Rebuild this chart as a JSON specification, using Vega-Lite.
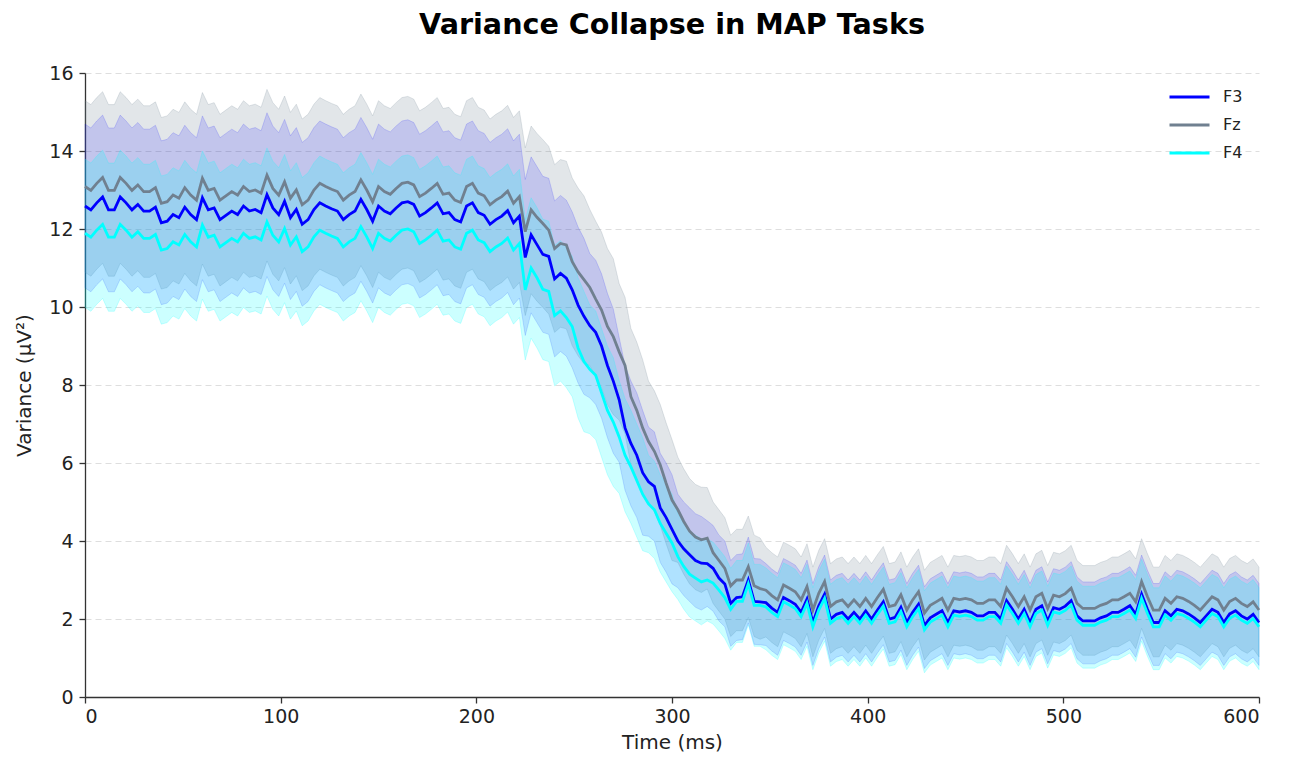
{
"$schema":"https://vega.github.io/schema/vega-lite/v6.json",
"width":1174,"height":624,
"autosize":{"type":"none"},
"padding":{"left":85,"top":73,"right":32,"bottom":60},
"background":"white",
"title":{"text":"Variance Collapse in MAP Tasks","font":"DejaVu Sans","fontSize":28.6,"fontWeight":"bold","color":"#000000","anchor":"middle","offset":24},
"config":{"view":{"stroke":null},"axis":{"labelFont":"DejaVu Sans","titleFont":"DejaVu Sans","labelFontSize":19,"titleFontSize":20,"titleFontWeight":"normal","labelColor":"#222222","titleColor":"#222222","domainColor":"#333333","tickColor":"#333333","domainWidth":1.3,"tickWidth":1.3,"tickSize":6}},
"data":{"values":[
{"t":0,"z":13.09,"zl":10.89,"zh":15.29,"a":12.59,"al":10.49,"ah":14.69,"c":11.89,"cl":9.99,"ch":13.79},
{"t":3,"z":12.99,"zl":10.79,"zh":15.19,"a":12.49,"al":10.39,"ah":14.59,"c":11.79,"cl":9.89,"ch":13.69},
{"t":6,"z":13.17,"zl":10.97,"zh":15.37,"a":12.67,"al":10.57,"ah":14.77,"c":11.97,"cl":10.07,"ch":13.87},
{"t":9,"z":13.32,"zl":11.12,"zh":15.52,"a":12.82,"al":10.72,"ah":14.92,"c":12.12,"cl":10.22,"ch":14.02},
{"t":12,"z":12.99,"zl":10.79,"zh":15.19,"a":12.49,"al":10.39,"ah":14.59,"c":11.79,"cl":9.89,"ch":13.69},
{"t":15,"z":12.99,"zl":10.79,"zh":15.19,"a":12.49,"al":10.39,"ah":14.59,"c":11.79,"cl":9.89,"ch":13.69},
{"t":18,"z":13.32,"zl":11.12,"zh":15.52,"a":12.82,"al":10.72,"ah":14.92,"c":12.12,"cl":10.22,"ch":14.02},
{"t":21,"z":13.17,"zl":10.97,"zh":15.37,"a":12.67,"al":10.57,"ah":14.77,"c":11.97,"cl":10.07,"ch":13.87},
{"t":24,"z":12.99,"zl":10.79,"zh":15.19,"a":12.49,"al":10.39,"ah":14.59,"c":11.79,"cl":9.89,"ch":13.69},
{"t":27,"z":13.13,"zl":10.93,"zh":15.33,"a":12.63,"al":10.53,"ah":14.73,"c":11.93,"cl":10.03,"ch":13.83},
{"t":30,"z":12.96,"zl":10.76,"zh":15.16,"a":12.46,"al":10.36,"ah":14.56,"c":11.76,"cl":9.86,"ch":13.66},
{"t":33,"z":12.96,"zl":10.76,"zh":15.16,"a":12.46,"al":10.36,"ah":14.56,"c":11.76,"cl":9.86,"ch":13.66},
{"t":36,"z":13.06,"zl":10.86,"zh":15.26,"a":12.56,"al":10.46,"ah":14.66,"c":11.86,"cl":9.96,"ch":13.76},
{"t":39,"z":12.66,"zl":10.46,"zh":14.86,"a":12.16,"al":10.06,"ah":14.26,"c":11.46,"cl":9.56,"ch":13.36},
{"t":42,"z":12.70,"zl":10.50,"zh":14.90,"a":12.20,"al":10.10,"ah":14.30,"c":11.50,"cl":9.60,"ch":13.40},
{"t":45,"z":12.87,"zl":10.67,"zh":15.07,"a":12.37,"al":10.27,"ah":14.47,"c":11.67,"cl":9.77,"ch":13.57},
{"t":48,"z":12.79,"zl":10.59,"zh":14.99,"a":12.29,"al":10.19,"ah":14.39,"c":11.59,"cl":9.69,"ch":13.49},
{"t":51,"z":13.06,"zl":10.86,"zh":15.26,"a":12.56,"al":10.46,"ah":14.66,"c":11.86,"cl":9.96,"ch":13.76},
{"t":54,"z":12.87,"zl":10.67,"zh":15.07,"a":12.37,"al":10.27,"ah":14.47,"c":11.67,"cl":9.77,"ch":13.57},
{"t":57,"z":12.74,"zl":10.54,"zh":14.94,"a":12.24,"al":10.14,"ah":14.34,"c":11.54,"cl":9.64,"ch":13.44},
{"t":60,"z":13.30,"zl":11.10,"zh":15.50,"a":12.80,"al":10.70,"ah":14.90,"c":12.10,"cl":10.20,"ch":14.00},
{"t":63,"z":12.99,"zl":10.79,"zh":15.19,"a":12.49,"al":10.39,"ah":14.59,"c":11.79,"cl":9.89,"ch":13.69},
{"t":66,"z":13.04,"zl":10.84,"zh":15.24,"a":12.54,"al":10.44,"ah":14.64,"c":11.84,"cl":9.94,"ch":13.74},
{"t":69,"z":12.74,"zl":10.54,"zh":14.94,"a":12.24,"al":10.14,"ah":14.34,"c":11.54,"cl":9.64,"ch":13.44},
{"t":72,"z":12.85,"zl":10.65,"zh":15.05,"a":12.35,"al":10.25,"ah":14.45,"c":11.65,"cl":9.75,"ch":13.55},
{"t":75,"z":12.96,"zl":10.76,"zh":15.16,"a":12.46,"al":10.36,"ah":14.56,"c":11.76,"cl":9.86,"ch":13.66},
{"t":78,"z":12.87,"zl":10.67,"zh":15.07,"a":12.37,"al":10.27,"ah":14.47,"c":11.67,"cl":9.77,"ch":13.57},
{"t":81,"z":13.09,"zl":10.89,"zh":15.29,"a":12.59,"al":10.49,"ah":14.69,"c":11.89,"cl":9.99,"ch":13.79},
{"t":84,"z":12.96,"zl":10.76,"zh":15.16,"a":12.46,"al":10.36,"ah":14.56,"c":11.76,"cl":9.86,"ch":13.66},
{"t":87,"z":13.00,"zl":10.80,"zh":15.20,"a":12.50,"al":10.40,"ah":14.60,"c":11.80,"cl":9.90,"ch":13.70},
{"t":90,"z":12.92,"zl":10.72,"zh":15.12,"a":12.42,"al":10.32,"ah":14.52,"c":11.72,"cl":9.82,"ch":13.62},
{"t":93,"z":13.38,"zl":11.18,"zh":15.58,"a":12.88,"al":10.78,"ah":14.98,"c":12.18,"cl":10.28,"ch":14.08},
{"t":96,"z":13.04,"zl":10.84,"zh":15.24,"a":12.54,"al":10.44,"ah":14.64,"c":11.84,"cl":9.94,"ch":13.74},
{"t":99,"z":12.87,"zl":10.67,"zh":15.07,"a":12.37,"al":10.27,"ah":14.47,"c":11.67,"cl":9.77,"ch":13.57},
{"t":102,"z":13.21,"zl":11.01,"zh":15.41,"a":12.71,"al":10.61,"ah":14.81,"c":12.01,"cl":10.11,"ch":13.91},
{"t":105,"z":12.79,"zl":10.59,"zh":14.99,"a":12.29,"al":10.19,"ah":14.39,"c":11.59,"cl":9.69,"ch":13.49},
{"t":108,"z":13.00,"zl":10.80,"zh":15.20,"a":12.50,"al":10.40,"ah":14.60,"c":11.80,"cl":9.90,"ch":13.70},
{"t":111,"z":12.62,"zl":10.42,"zh":14.82,"a":12.12,"al":10.02,"ah":14.22,"c":11.42,"cl":9.52,"ch":13.32},
{"t":114,"z":12.74,"zl":10.54,"zh":14.94,"a":12.24,"al":10.14,"ah":14.34,"c":11.54,"cl":9.64,"ch":13.44},
{"t":117,"z":13.00,"zl":10.80,"zh":15.20,"a":12.50,"al":10.40,"ah":14.60,"c":11.80,"cl":9.90,"ch":13.70},
{"t":120,"z":13.17,"zl":10.97,"zh":15.37,"a":12.67,"al":10.57,"ah":14.77,"c":11.97,"cl":10.07,"ch":13.87},
{"t":123,"z":13.09,"zl":10.89,"zh":15.29,"a":12.59,"al":10.49,"ah":14.69,"c":11.89,"cl":9.99,"ch":13.79},
{"t":126,"z":13.02,"zl":10.82,"zh":15.22,"a":12.52,"al":10.42,"ah":14.62,"c":11.82,"cl":9.92,"ch":13.72},
{"t":129,"z":12.96,"zl":10.76,"zh":15.16,"a":12.46,"al":10.36,"ah":14.56,"c":11.76,"cl":9.86,"ch":13.66},
{"t":132,"z":12.74,"zl":10.54,"zh":14.94,"a":12.24,"al":10.14,"ah":14.34,"c":11.54,"cl":9.64,"ch":13.44},
{"t":135,"z":12.87,"zl":10.67,"zh":15.07,"a":12.37,"al":10.27,"ah":14.47,"c":11.67,"cl":9.77,"ch":13.57},
{"t":138,"z":12.96,"zl":10.76,"zh":15.16,"a":12.46,"al":10.36,"ah":14.56,"c":11.76,"cl":9.86,"ch":13.66},
{"t":141,"z":13.26,"zl":11.06,"zh":15.46,"a":12.76,"al":10.66,"ah":14.86,"c":12.06,"cl":10.16,"ch":13.96},
{"t":144,"z":13.00,"zl":10.80,"zh":15.20,"a":12.50,"al":10.40,"ah":14.60,"c":11.80,"cl":9.90,"ch":13.70},
{"t":147,"z":12.70,"zl":10.50,"zh":14.90,"a":12.20,"al":10.10,"ah":14.30,"c":11.50,"cl":9.60,"ch":13.40},
{"t":150,"z":13.09,"zl":10.89,"zh":15.29,"a":12.59,"al":10.49,"ah":14.69,"c":11.89,"cl":9.99,"ch":13.79},
{"t":153,"z":12.96,"zl":10.76,"zh":15.16,"a":12.46,"al":10.36,"ah":14.56,"c":11.76,"cl":9.86,"ch":13.66},
{"t":156,"z":12.89,"zl":10.69,"zh":15.09,"a":12.39,"al":10.29,"ah":14.49,"c":11.69,"cl":9.79,"ch":13.59},
{"t":159,"z":13.04,"zl":10.84,"zh":15.24,"a":12.54,"al":10.44,"ah":14.64,"c":11.84,"cl":9.94,"ch":13.74},
{"t":162,"z":13.17,"zl":10.97,"zh":15.37,"a":12.67,"al":10.57,"ah":14.77,"c":11.97,"cl":10.07,"ch":13.87},
{"t":165,"z":13.20,"zl":11.00,"zh":15.40,"a":12.70,"al":10.60,"ah":14.80,"c":12.00,"cl":10.10,"ch":13.90},
{"t":168,"z":13.13,"zl":10.93,"zh":15.33,"a":12.63,"al":10.53,"ah":14.73,"c":11.93,"cl":10.03,"ch":13.83},
{"t":171,"z":12.83,"zl":10.63,"zh":15.03,"a":12.33,"al":10.23,"ah":14.43,"c":11.63,"cl":9.73,"ch":13.53},
{"t":174,"z":12.92,"zl":10.72,"zh":15.12,"a":12.42,"al":10.32,"ah":14.52,"c":11.72,"cl":9.82,"ch":13.62},
{"t":177,"z":13.04,"zl":10.84,"zh":15.24,"a":12.54,"al":10.44,"ah":14.64,"c":11.84,"cl":9.94,"ch":13.74},
{"t":180,"z":13.17,"zl":10.97,"zh":15.37,"a":12.67,"al":10.57,"ah":14.77,"c":11.97,"cl":10.07,"ch":13.87},
{"t":183,"z":12.89,"zl":10.69,"zh":15.09,"a":12.39,"al":10.29,"ah":14.49,"c":11.69,"cl":9.79,"ch":13.59},
{"t":186,"z":12.92,"zl":10.72,"zh":15.12,"a":12.42,"al":10.32,"ah":14.52,"c":11.72,"cl":9.82,"ch":13.62},
{"t":189,"z":12.74,"zl":10.54,"zh":14.94,"a":12.24,"al":10.14,"ah":14.34,"c":11.54,"cl":9.64,"ch":13.44},
{"t":192,"z":12.68,"zl":10.48,"zh":14.88,"a":12.18,"al":10.08,"ah":14.28,"c":11.48,"cl":9.58,"ch":13.38},
{"t":195,"z":13.09,"zl":10.89,"zh":15.29,"a":12.59,"al":10.49,"ah":14.69,"c":11.89,"cl":9.99,"ch":13.79},
{"t":198,"z":13.17,"zl":10.97,"zh":15.37,"a":12.67,"al":10.57,"ah":14.77,"c":11.97,"cl":10.07,"ch":13.87},
{"t":201,"z":12.92,"zl":10.72,"zh":15.12,"a":12.42,"al":10.32,"ah":14.52,"c":11.72,"cl":9.82,"ch":13.62},
{"t":204,"z":12.85,"zl":10.65,"zh":15.05,"a":12.35,"al":10.25,"ah":14.45,"c":11.65,"cl":9.75,"ch":13.55},
{"t":207,"z":12.62,"zl":10.42,"zh":14.82,"a":12.12,"al":10.02,"ah":14.22,"c":11.42,"cl":9.52,"ch":13.32},
{"t":210,"z":12.74,"zl":10.54,"zh":14.94,"a":12.24,"al":10.14,"ah":14.34,"c":11.54,"cl":9.64,"ch":13.44},
{"t":213,"z":12.83,"zl":10.63,"zh":15.03,"a":12.33,"al":10.23,"ah":14.43,"c":11.63,"cl":9.73,"ch":13.53},
{"t":216,"z":12.97,"zl":10.77,"zh":15.17,"a":12.47,"al":10.37,"ah":14.57,"c":11.77,"cl":9.87,"ch":13.67},
{"t":219,"z":12.66,"zl":10.46,"zh":14.86,"a":12.16,"al":10.06,"ah":14.26,"c":11.46,"cl":9.56,"ch":13.36},
{"t":222,"z":12.83,"zl":10.63,"zh":15.03,"a":12.33,"al":10.23,"ah":14.43,"c":11.63,"cl":9.73,"ch":13.53},
{"t":225,"z":11.93,"zl":9.78,"zh":14.08,"a":11.27,"al":9.27,"ah":13.27,"c":10.44,"cl":8.64,"ch":12.24},
{"t":228,"z":12.49,"zl":10.34,"zh":14.64,"a":11.85,"al":9.85,"ah":13.85,"c":11.00,"cl":9.20,"ch":12.80},
{"t":231,"z":12.30,"zl":10.15,"zh":14.45,"a":11.60,"al":9.60,"ah":13.60,"c":10.75,"cl":8.95,"ch":12.55},
{"t":234,"z":12.14,"zl":9.99,"zh":14.29,"a":11.35,"al":9.35,"ah":13.35,"c":10.45,"cl":8.65,"ch":12.25},
{"t":237,"z":11.97,"zl":9.82,"zh":14.12,"a":11.30,"al":9.30,"ah":13.30,"c":10.40,"cl":8.60,"ch":12.20},
{"t":240,"z":11.50,"zl":9.35,"zh":13.65,"a":10.72,"al":8.72,"ah":12.72,"c":9.78,"cl":7.98,"ch":11.58},
{"t":243,"z":11.63,"zl":9.48,"zh":13.78,"a":10.86,"al":8.86,"ah":12.86,"c":9.90,"cl":8.10,"ch":11.70},
{"t":246,"z":11.59,"zl":9.44,"zh":13.74,"a":10.74,"al":8.74,"ah":12.74,"c":9.73,"cl":7.93,"ch":11.53},
{"t":249,"z":11.16,"zl":9.01,"zh":13.31,"a":10.44,"al":8.44,"ah":12.44,"c":9.50,"cl":7.70,"ch":11.30},
{"t":252,"z":10.90,"zl":8.75,"zh":13.05,"a":10.05,"al":8.05,"ah":12.05,"c":8.95,"cl":7.15,"ch":10.75},
{"t":255,"z":10.70,"zl":8.55,"zh":12.85,"a":9.76,"al":7.76,"ah":11.76,"c":8.60,"cl":6.80,"ch":10.40},
{"t":258,"z":10.50,"zl":8.50,"zh":12.50,"a":9.52,"al":7.67,"ah":11.37,"c":8.40,"cl":6.75,"ch":10.05},
{"t":261,"z":10.20,"zl":8.20,"zh":12.20,"a":9.35,"al":7.50,"ah":11.20,"c":8.25,"cl":6.60,"ch":9.90},
{"t":264,"z":9.92,"zl":7.92,"zh":11.92,"a":9.00,"al":7.15,"ah":10.85,"c":7.80,"cl":6.15,"ch":9.45},
{"t":267,"z":9.50,"zl":7.50,"zh":11.50,"a":8.50,"al":6.65,"ah":10.35,"c":7.35,"cl":5.70,"ch":9.00},
{"t":270,"z":9.24,"zl":7.24,"zh":11.24,"a":8.10,"al":6.25,"ah":9.95,"c":7.05,"cl":5.40,"ch":8.70},
{"t":273,"z":8.85,"zl":7.10,"zh":10.60,"a":7.62,"al":6.02,"ah":9.22,"c":6.67,"cl":5.22,"ch":8.12},
{"t":276,"z":8.50,"zl":6.75,"zh":10.25,"a":6.90,"al":5.30,"ah":8.50,"c":6.20,"cl":4.75,"ch":7.65},
{"t":279,"z":7.70,"zl":5.95,"zh":9.45,"a":6.50,"al":4.90,"ah":8.10,"c":5.90,"cl":4.45,"ch":7.35},
{"t":282,"z":7.35,"zl":5.60,"zh":9.10,"a":6.20,"al":4.60,"ah":7.80,"c":5.55,"cl":4.10,"ch":7.00},
{"t":285,"z":6.90,"zl":5.15,"zh":8.65,"a":5.75,"al":4.15,"ah":7.35,"c":5.20,"cl":3.75,"ch":6.65},
{"t":288,"z":6.55,"zl":5.00,"zh":8.10,"a":5.52,"al":4.12,"ah":6.92,"c":4.95,"cl":3.70,"ch":6.20},
{"t":291,"z":6.30,"zl":4.75,"zh":7.85,"a":5.40,"al":4.00,"ah":6.80,"c":4.80,"cl":3.55,"ch":6.05},
{"t":294,"z":5.95,"zl":4.40,"zh":7.50,"a":4.85,"al":3.45,"ah":6.25,"c":4.45,"cl":3.20,"ch":5.70},
{"t":297,"z":5.48,"zl":3.93,"zh":7.03,"a":4.60,"al":3.20,"ah":6.00,"c":4.20,"cl":2.95,"ch":5.45},
{"t":300,"z":5.05,"zl":3.50,"zh":6.60,"a":4.30,"al":2.90,"ah":5.70,"c":3.95,"cl":2.70,"ch":5.20},
{"t":303,"z":4.80,"zl":3.45,"zh":6.15,"a":4.00,"al":2.80,"ah":5.20,"c":3.60,"cl":2.50,"ch":4.70},
{"t":306,"z":4.50,"zl":3.15,"zh":5.85,"a":3.80,"al":2.60,"ah":5.00,"c":3.35,"cl":2.25,"ch":4.45},
{"t":309,"z":4.25,"zl":2.90,"zh":5.60,"a":3.65,"al":2.45,"ah":4.85,"c":3.15,"cl":2.05,"ch":4.25},
{"t":312,"z":4.10,"zl":2.75,"zh":5.45,"a":3.50,"al":2.30,"ah":4.70,"c":3.05,"cl":1.95,"ch":4.15},
{"t":315,"z":4.03,"zl":2.68,"zh":5.38,"a":3.43,"al":2.23,"ah":4.63,"c":2.95,"cl":1.85,"ch":4.05},
{"t":318,"z":4.07,"zl":2.77,"zh":5.37,"a":3.42,"al":2.32,"ah":4.52,"c":3.00,"cl":1.95,"ch":4.05},
{"t":321,"z":3.70,"zl":2.40,"zh":5.00,"a":3.30,"al":2.20,"ah":4.40,"c":2.92,"cl":1.87,"ch":3.97},
{"t":324,"z":3.50,"zl":2.20,"zh":4.80,"a":3.05,"al":1.95,"ah":4.15,"c":2.74,"cl":1.69,"ch":3.79},
{"t":327,"z":3.30,"zl":2.00,"zh":4.60,"a":2.90,"al":1.80,"ah":4.00,"c":2.55,"cl":1.50,"ch":3.60},
{"t":330,"z":2.85,"zl":1.55,"zh":4.15,"a":2.40,"al":1.30,"ah":3.50,"c":2.25,"cl":1.20,"ch":3.30},
{"t":333,"z":3.00,"zl":1.70,"zh":4.30,"a":2.55,"al":1.45,"ah":3.65,"c":2.45,"cl":1.40,"ch":3.50},
{"t":336,"z":3.00,"zl":1.70,"zh":4.30,"a":2.57,"al":1.47,"ah":3.67,"c":2.45,"cl":1.40,"ch":3.50},
{"t":339,"z":3.34,"zl":2.04,"zh":4.64,"a":3.00,"al":1.90,"ah":4.10,"c":2.90,"cl":1.85,"ch":3.95},
{"t":342,"z":2.85,"zl":1.55,"zh":4.15,"a":2.45,"al":1.35,"ah":3.55,"c":2.35,"cl":1.30,"ch":3.40},
{"t":345,"z":2.78,"zl":1.48,"zh":4.08,"a":2.44,"al":1.34,"ah":3.54,"c":2.35,"cl":1.30,"ch":3.40},
{"t":348,"z":2.74,"zl":1.54,"zh":3.84,"a":2.42,"al":1.32,"ah":3.42,"c":2.31,"cl":1.21,"ch":3.31},
{"t":351,"z":2.60,"zl":1.40,"zh":3.70,"a":2.28,"al":1.18,"ah":3.28,"c":2.17,"cl":1.07,"ch":3.17},
{"t":354,"z":2.49,"zl":1.29,"zh":3.59,"a":2.17,"al":1.07,"ah":3.17,"c":2.06,"cl":0.96,"ch":3.06},
{"t":357,"z":2.87,"zl":1.67,"zh":3.97,"a":2.55,"al":1.45,"ah":3.55,"c":2.44,"cl":1.34,"ch":3.44},
{"t":360,"z":2.79,"zl":1.59,"zh":3.89,"a":2.47,"al":1.37,"ah":3.47,"c":2.36,"cl":1.26,"ch":3.36},
{"t":363,"z":2.70,"zl":1.50,"zh":3.80,"a":2.38,"al":1.28,"ah":3.38,"c":2.27,"cl":1.17,"ch":3.27},
{"t":366,"z":2.49,"zl":1.29,"zh":3.59,"a":2.17,"al":1.07,"ah":3.17,"c":2.06,"cl":0.96,"ch":3.06},
{"t":369,"z":2.83,"zl":1.63,"zh":3.93,"a":2.51,"al":1.41,"ah":3.51,"c":2.40,"cl":1.30,"ch":3.40},
{"t":372,"z":2.23,"zl":1.03,"zh":3.33,"a":1.91,"al":0.81,"ah":2.91,"c":1.80,"cl":0.70,"ch":2.80},
{"t":375,"z":2.66,"zl":1.46,"zh":3.76,"a":2.34,"al":1.24,"ah":3.34,"c":2.23,"cl":1.13,"ch":3.23},
{"t":378,"z":2.96,"zl":1.76,"zh":4.06,"a":2.64,"al":1.54,"ah":3.64,"c":2.53,"cl":1.43,"ch":3.53},
{"t":381,"z":2.32,"zl":1.12,"zh":3.42,"a":2.00,"al":0.90,"ah":3.00,"c":1.89,"cl":0.79,"ch":2.89},
{"t":384,"z":2.44,"zl":1.24,"zh":3.54,"a":2.12,"al":1.02,"ah":3.12,"c":2.01,"cl":0.91,"ch":3.01},
{"t":387,"z":2.49,"zl":1.29,"zh":3.59,"a":2.17,"al":1.07,"ah":3.17,"c":2.06,"cl":0.96,"ch":3.06},
{"t":390,"z":2.32,"zl":1.12,"zh":3.42,"a":2.00,"al":0.90,"ah":3.00,"c":1.89,"cl":0.79,"ch":2.89},
{"t":393,"z":2.49,"zl":1.29,"zh":3.59,"a":2.17,"al":1.07,"ah":3.17,"c":2.06,"cl":0.96,"ch":3.06},
{"t":396,"z":2.32,"zl":1.12,"zh":3.42,"a":2.00,"al":0.90,"ah":3.00,"c":1.89,"cl":0.79,"ch":2.89},
{"t":399,"z":2.53,"zl":1.33,"zh":3.63,"a":2.21,"al":1.11,"ah":3.21,"c":2.10,"cl":1.00,"ch":3.10},
{"t":402,"z":2.32,"zl":1.12,"zh":3.42,"a":2.00,"al":0.90,"ah":3.00,"c":1.89,"cl":0.79,"ch":2.89},
{"t":405,"z":2.55,"zl":1.35,"zh":3.65,"a":2.23,"al":1.13,"ah":3.23,"c":2.12,"cl":1.02,"ch":3.12},
{"t":408,"z":2.76,"zl":1.56,"zh":3.86,"a":2.44,"al":1.34,"ah":3.44,"c":2.33,"cl":1.23,"ch":3.33},
{"t":411,"z":2.32,"zl":1.12,"zh":3.42,"a":2.00,"al":0.90,"ah":3.00,"c":1.89,"cl":0.79,"ch":2.89},
{"t":414,"z":2.36,"zl":1.16,"zh":3.46,"a":2.04,"al":0.94,"ah":3.04,"c":1.93,"cl":0.83,"ch":2.93},
{"t":417,"z":2.62,"zl":1.42,"zh":3.72,"a":2.30,"al":1.20,"ah":3.30,"c":2.19,"cl":1.09,"ch":3.19},
{"t":420,"z":2.23,"zl":1.03,"zh":3.33,"a":1.91,"al":0.81,"ah":2.91,"c":1.80,"cl":0.70,"ch":2.80},
{"t":423,"z":2.49,"zl":1.29,"zh":3.59,"a":2.17,"al":1.07,"ah":3.17,"c":2.06,"cl":0.96,"ch":3.06},
{"t":426,"z":2.70,"zl":1.50,"zh":3.80,"a":2.38,"al":1.28,"ah":3.38,"c":2.27,"cl":1.17,"ch":3.27},
{"t":429,"z":2.15,"zl":0.95,"zh":3.25,"a":1.83,"al":0.73,"ah":2.83,"c":1.72,"cl":0.62,"ch":2.72},
{"t":432,"z":2.35,"zl":1.15,"zh":3.45,"a":2.03,"al":0.93,"ah":3.03,"c":1.92,"cl":0.82,"ch":2.92},
{"t":435,"z":2.44,"zl":1.24,"zh":3.54,"a":2.12,"al":1.02,"ah":3.12,"c":2.01,"cl":0.91,"ch":3.01},
{"t":438,"z":2.53,"zl":1.33,"zh":3.63,"a":2.21,"al":1.11,"ah":3.21,"c":2.10,"cl":1.00,"ch":3.10},
{"t":441,"z":2.23,"zl":1.03,"zh":3.33,"a":1.91,"al":0.81,"ah":2.91,"c":1.80,"cl":0.70,"ch":2.80},
{"t":444,"z":2.53,"zl":1.33,"zh":3.63,"a":2.21,"al":1.11,"ah":3.21,"c":2.10,"cl":1.00,"ch":3.10},
{"t":447,"z":2.50,"zl":1.30,"zh":3.60,"a":2.18,"al":1.08,"ah":3.18,"c":2.07,"cl":0.97,"ch":3.07},
{"t":450,"z":2.53,"zl":1.33,"zh":3.63,"a":2.21,"al":1.11,"ah":3.21,"c":2.10,"cl":1.00,"ch":3.10},
{"t":453,"z":2.49,"zl":1.29,"zh":3.59,"a":2.17,"al":1.07,"ah":3.17,"c":2.06,"cl":0.96,"ch":3.06},
{"t":456,"z":2.40,"zl":1.20,"zh":3.50,"a":2.08,"al":0.98,"ah":3.08,"c":1.97,"cl":0.87,"ch":2.97},
{"t":459,"z":2.40,"zl":1.20,"zh":3.50,"a":2.08,"al":0.98,"ah":3.08,"c":1.97,"cl":0.87,"ch":2.97},
{"t":462,"z":2.49,"zl":1.29,"zh":3.59,"a":2.17,"al":1.07,"ah":3.17,"c":2.06,"cl":0.96,"ch":3.06},
{"t":465,"z":2.49,"zl":1.29,"zh":3.59,"a":2.17,"al":1.07,"ah":3.17,"c":2.06,"cl":0.96,"ch":3.06},
{"t":468,"z":2.32,"zl":1.12,"zh":3.42,"a":2.00,"al":0.90,"ah":3.00,"c":1.89,"cl":0.79,"ch":2.89},
{"t":471,"z":2.79,"zl":1.59,"zh":3.89,"a":2.47,"al":1.37,"ah":3.47,"c":2.36,"cl":1.26,"ch":3.36},
{"t":474,"z":2.57,"zl":1.37,"zh":3.67,"a":2.25,"al":1.15,"ah":3.25,"c":2.14,"cl":1.04,"ch":3.14},
{"t":477,"z":2.32,"zl":1.12,"zh":3.42,"a":2.00,"al":0.90,"ah":3.00,"c":1.89,"cl":0.79,"ch":2.89},
{"t":480,"z":2.57,"zl":1.37,"zh":3.67,"a":2.25,"al":1.15,"ah":3.25,"c":2.14,"cl":1.04,"ch":3.14},
{"t":483,"z":2.23,"zl":1.03,"zh":3.33,"a":1.91,"al":0.81,"ah":2.91,"c":1.80,"cl":0.70,"ch":2.80},
{"t":486,"z":2.57,"zl":1.37,"zh":3.67,"a":2.25,"al":1.15,"ah":3.25,"c":2.14,"cl":1.04,"ch":3.14},
{"t":489,"z":2.66,"zl":1.46,"zh":3.76,"a":2.34,"al":1.24,"ah":3.34,"c":2.23,"cl":1.13,"ch":3.23},
{"t":492,"z":2.27,"zl":1.07,"zh":3.37,"a":1.95,"al":0.85,"ah":2.95,"c":1.84,"cl":0.74,"ch":2.84},
{"t":495,"z":2.61,"zl":1.41,"zh":3.71,"a":2.29,"al":1.19,"ah":3.29,"c":2.18,"cl":1.08,"ch":3.18},
{"t":498,"z":2.57,"zl":1.37,"zh":3.67,"a":2.25,"al":1.15,"ah":3.25,"c":2.14,"cl":1.04,"ch":3.14},
{"t":501,"z":2.65,"zl":1.45,"zh":3.75,"a":2.33,"al":1.23,"ah":3.33,"c":2.22,"cl":1.12,"ch":3.22},
{"t":504,"z":2.79,"zl":1.59,"zh":3.89,"a":2.47,"al":1.37,"ah":3.47,"c":2.36,"cl":1.26,"ch":3.36},
{"t":507,"z":2.40,"zl":1.20,"zh":3.50,"a":2.08,"al":0.98,"ah":3.08,"c":1.97,"cl":0.87,"ch":2.97},
{"t":510,"z":2.27,"zl":1.07,"zh":3.37,"a":1.95,"al":0.85,"ah":2.95,"c":1.84,"cl":0.74,"ch":2.84},
{"t":513,"z":2.27,"zl":1.07,"zh":3.37,"a":1.95,"al":0.85,"ah":2.95,"c":1.84,"cl":0.74,"ch":2.84},
{"t":516,"z":2.27,"zl":1.07,"zh":3.37,"a":1.95,"al":0.85,"ah":2.95,"c":1.84,"cl":0.74,"ch":2.84},
{"t":519,"z":2.35,"zl":1.15,"zh":3.45,"a":2.03,"al":0.93,"ah":3.03,"c":1.92,"cl":0.82,"ch":2.92},
{"t":522,"z":2.40,"zl":1.20,"zh":3.50,"a":2.08,"al":0.98,"ah":3.08,"c":1.97,"cl":0.87,"ch":2.97},
{"t":525,"z":2.49,"zl":1.29,"zh":3.59,"a":2.17,"al":1.07,"ah":3.17,"c":2.06,"cl":0.96,"ch":3.06},
{"t":528,"z":2.49,"zl":1.29,"zh":3.59,"a":2.17,"al":1.07,"ah":3.17,"c":2.06,"cl":0.96,"ch":3.06},
{"t":531,"z":2.57,"zl":1.37,"zh":3.67,"a":2.25,"al":1.15,"ah":3.25,"c":2.14,"cl":1.04,"ch":3.14},
{"t":534,"z":2.66,"zl":1.46,"zh":3.76,"a":2.34,"al":1.24,"ah":3.34,"c":2.23,"cl":1.13,"ch":3.23},
{"t":537,"z":2.44,"zl":1.24,"zh":3.54,"a":2.12,"al":1.02,"ah":3.12,"c":2.01,"cl":0.91,"ch":3.01},
{"t":540,"z":2.96,"zl":1.76,"zh":4.06,"a":2.64,"al":1.54,"ah":3.64,"c":2.53,"cl":1.43,"ch":3.53},
{"t":543,"z":2.57,"zl":1.37,"zh":3.67,"a":2.25,"al":1.15,"ah":3.25,"c":2.14,"cl":1.04,"ch":3.14},
{"t":546,"z":2.23,"zl":1.03,"zh":3.33,"a":1.91,"al":0.81,"ah":2.91,"c":1.80,"cl":0.70,"ch":2.80},
{"t":549,"z":2.23,"zl":1.03,"zh":3.33,"a":1.91,"al":0.81,"ah":2.91,"c":1.80,"cl":0.70,"ch":2.80},
{"t":552,"z":2.53,"zl":1.33,"zh":3.63,"a":2.21,"al":1.11,"ah":3.21,"c":2.10,"cl":1.00,"ch":3.10},
{"t":555,"z":2.40,"zl":1.20,"zh":3.50,"a":2.08,"al":0.98,"ah":3.08,"c":1.97,"cl":0.87,"ch":2.97},
{"t":558,"z":2.57,"zl":1.37,"zh":3.67,"a":2.25,"al":1.15,"ah":3.25,"c":2.14,"cl":1.04,"ch":3.14},
{"t":561,"z":2.53,"zl":1.33,"zh":3.63,"a":2.21,"al":1.11,"ah":3.21,"c":2.10,"cl":1.00,"ch":3.10},
{"t":564,"z":2.45,"zl":1.25,"zh":3.55,"a":2.13,"al":1.03,"ah":3.13,"c":2.02,"cl":0.92,"ch":3.02},
{"t":567,"z":2.35,"zl":1.15,"zh":3.45,"a":2.03,"al":0.93,"ah":3.03,"c":1.92,"cl":0.82,"ch":2.92},
{"t":570,"z":2.23,"zl":1.03,"zh":3.33,"a":1.91,"al":0.81,"ah":2.91,"c":1.80,"cl":0.70,"ch":2.80},
{"t":573,"z":2.40,"zl":1.20,"zh":3.50,"a":2.08,"al":0.98,"ah":3.08,"c":1.97,"cl":0.87,"ch":2.97},
{"t":576,"z":2.57,"zl":1.37,"zh":3.67,"a":2.25,"al":1.15,"ah":3.25,"c":2.14,"cl":1.04,"ch":3.14},
{"t":579,"z":2.49,"zl":1.29,"zh":3.59,"a":2.17,"al":1.07,"ah":3.17,"c":2.06,"cl":0.96,"ch":3.06},
{"t":582,"z":2.23,"zl":1.03,"zh":3.33,"a":1.91,"al":0.81,"ah":2.91,"c":1.80,"cl":0.70,"ch":2.80},
{"t":585,"z":2.45,"zl":1.25,"zh":3.55,"a":2.13,"al":1.03,"ah":3.13,"c":2.02,"cl":0.92,"ch":3.02},
{"t":588,"z":2.53,"zl":1.33,"zh":3.63,"a":2.21,"al":1.11,"ah":3.21,"c":2.10,"cl":1.00,"ch":3.10},
{"t":591,"z":2.40,"zl":1.20,"zh":3.50,"a":2.08,"al":0.98,"ah":3.08,"c":1.97,"cl":0.87,"ch":2.97},
{"t":594,"z":2.32,"zl":1.12,"zh":3.42,"a":2.00,"al":0.90,"ah":3.00,"c":1.89,"cl":0.79,"ch":2.89},
{"t":597,"z":2.44,"zl":1.24,"zh":3.54,"a":2.12,"al":1.02,"ah":3.12,"c":2.01,"cl":0.91,"ch":3.01},
{"t":600,"z":2.23,"zl":1.03,"zh":3.33,"a":1.91,"al":0.81,"ah":2.91,"c":1.80,"cl":0.70,"ch":2.80}
]},
"encoding":{
"x":{"field":"t","type":"quantitative","scale":{"domain":[0,600],"nice":false,"zero":false},"axis":{"title":"Time (ms)","values":[0,100,200,300,400,500,600],"grid":false,"labelPadding":4,"titlePadding":6}}
},
"layer":[
{"mark":{"type":"area","fill":"#708090","fillOpacity":0.2,"stroke":"#708090","strokeOpacity":0.2,"strokeWidth":1},
 "encoding":{"y":{"field":"zl","type":"quantitative","scale":{"domain":[0,16],"nice":false},"axis":{"title":"Variance (μV²)","values":[0,2,4,6,8,10,12,14,16],"grid":true,"gridDash":[6,4],"gridColor":"#dedede","gridWidth":1,"labelPadding":6,"titlePadding":14}},"y2":{"field":"zh"}}},
{"mark":{"type":"area","fill":"#0000ff","fillOpacity":0.14,"stroke":"#0000ff","strokeOpacity":0.15,"strokeWidth":1},
 "encoding":{"y":{"field":"al","type":"quantitative"},"y2":{"field":"ah"}}},
{"mark":{"type":"area","fill":"#00ffff","fillOpacity":0.2,"stroke":"#00ffff","strokeOpacity":0.2,"strokeWidth":1},
 "encoding":{"y":{"field":"cl","type":"quantitative"},"y2":{"field":"ch"}}},
{"mark":{"type":"line","strokeWidth":2.8},
 "encoding":{"y":{"field":"a","type":"quantitative"},"color":{"datum":"F3"}}},
{"mark":{"type":"line","strokeWidth":2.8},
 "encoding":{"y":{"field":"z","type":"quantitative"},"color":{"datum":"Fz"}}},
{"mark":{"type":"line","strokeWidth":2.8},
 "encoding":{"y":{"field":"c","type":"quantitative"},"color":{"datum":"F4","scale":{"domain":["F3","Fz","F4"],"range":["#0000ff","#708090","#00ffff"]},"legend":{"title":null,"orient":"none","legendX":1083,"legendY":12,"symbolType":"stroke","symbolSize":1600,"symbolStrokeWidth":3,"labelFont":"DejaVu Sans","labelFontSize":16,"labelColor":"#222222","labelOffset":12,"clipHeight":24,"rowPadding":4}}}}
]
}
